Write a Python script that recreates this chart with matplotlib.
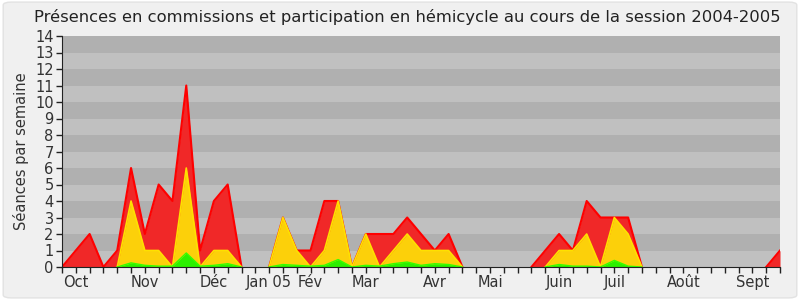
import matplotlib
matplotlib.use("Agg")
import matplotlib.pyplot as plt
from matplotlib.patches import FancyBboxPatch
import numpy as np

weeks = list(range(53))
red_total = [0, 1, 2, 0, 1, 6, 2, 5, 4, 11, 1, 4, 5, 0, 0, 0, 3, 1, 1, 4, 4, 0, 2, 2, 2, 3, 2, 1, 2, 0,
             0, 0, 0, 0, 0, 1, 2, 1, 4, 3, 3, 3, 0, 0, 0, 0, 0, 0, 0, 0, 0, 0, 1]
yellow_comm = [0, 0, 0, 0, 0, 4, 1, 1, 0, 6, 0, 1, 1, 0, 0, 0, 3, 1, 0, 1, 4, 0, 2, 0, 1, 2, 1, 1, 1, 0,
               0, 0, 0, 0, 0, 0, 1, 1, 2, 0, 3, 2, 0, 0, 0, 0, 0, 0, 0, 0, 0, 0, 0]
green_hem = [0, 0, 0, 0, 0, 0.25, 0.1, 0.05, 0.05, 0.85, 0.05, 0.1, 0.2, 0, 0, 0, 0.15, 0.1, 0.05, 0.1, 0.45, 0,
             0.1, 0.05, 0.2, 0.3, 0.1, 0.2, 0.15, 0, 0, 0, 0, 0, 0, 0, 0.15, 0.05, 0.05, 0, 0.4, 0.05, 0,
             0, 0, 0, 0, 0, 0, 0, 0, 0, 0]
month_labels = ["Oct", "Nov", "Déc", "Jan 05", "Fév", "Mar", "Avr", "Mai", "Juin", "Juil", "Août", "Sept"]
month_weeks = [1, 6, 11, 15, 18, 22, 27, 31, 36, 40, 45, 50]
y_ticks = list(range(15))


def mask_flat_zero(vals):
    v = np.array(vals, dtype=float)
    out = v.copy()
    n = len(v)
    for i in range(n):
        left = v[i - 1] if i > 0 else 0
        right = v[i + 1] if i < n - 1 else 0
        if v[i] == 0 and left == 0 and right == 0:
            out[i] = np.nan
    return out


fig = plt.figure(figsize=(8, 3), dpi=100, facecolor="white")
bg = FancyBboxPatch((0.004, 0.007), 0.992, 0.986, boxstyle="round,pad=0,rounding_size=0.01",
                    transform=fig.transFigure, facecolor="#f0f0f0", edgecolor="#e2e2e2", lw=1, zorder=-10)
fig.patches.append(bg)

ax = fig.add_axes([0.0775, 0.11, 0.8975, 0.77])
ax.set_zorder(5)
ax.set_facecolor("#c0c0c0")
for k in range(14):
    if k % 2 == 1:
        ax.axhspan(k, k + 1, color="#b0b0b0", lw=0, zorder=0)

x = np.array(weeks)
ax.fill_between(x, red_total, color="#f02828", lw=0, zorder=2)
ax.plot(x, mask_flat_zero(red_total), color="#ff0000", lw=1.5, zorder=3)
ax.fill_between(x, yellow_comm, color="#fcd00a", lw=0, zorder=4)
ax.plot(x, mask_flat_zero(yellow_comm), color="#ffe000", lw=1.2, zorder=5)
ax.fill_between(x, green_hem, color="#2cf000", lw=0, zorder=6)
ax.plot(x, mask_flat_zero(green_hem), color="#33ff00", lw=1.0, zorder=7)

ax.set_xlim(0, 52)
ax.set_ylim(0, 14)
for s in ["top", "right"]:
    ax.spines[s].set_visible(False)
ax.spines["left"].set_color("#222222")
ax.spines["bottom"].set_color("#222222")
ax.spines["left"].set_zorder(10)
ax.spines["bottom"].set_zorder(10)

ax.set_yticks(y_ticks)
ax.set_yticklabels([str(v) for v in y_ticks], fontsize=10.5, color="#333333")
ax.set_xticks(weeks, minor=True)
ax.set_xticks(month_weeks)
ax.set_xticklabels(month_labels, fontsize=10.5, color="#333333")
ax.tick_params(axis="x", which="both", length=4, width=1, color="#222222", pad=2)
ax.tick_params(axis="y", length=4, width=1, color="#222222", pad=2)
ax.set_ylabel("Séances par semaine", fontsize=10.5, color="#333333", labelpad=4)
fig.text(0.509, 0.943, "Présences en commissions et participation en hémicycle au cours de la session 2004-2005",
         ha="center", va="center", fontsize=11.8, color="#222222")

fig.savefig("out.png", dpi=100, facecolor=fig.get_facecolor())
